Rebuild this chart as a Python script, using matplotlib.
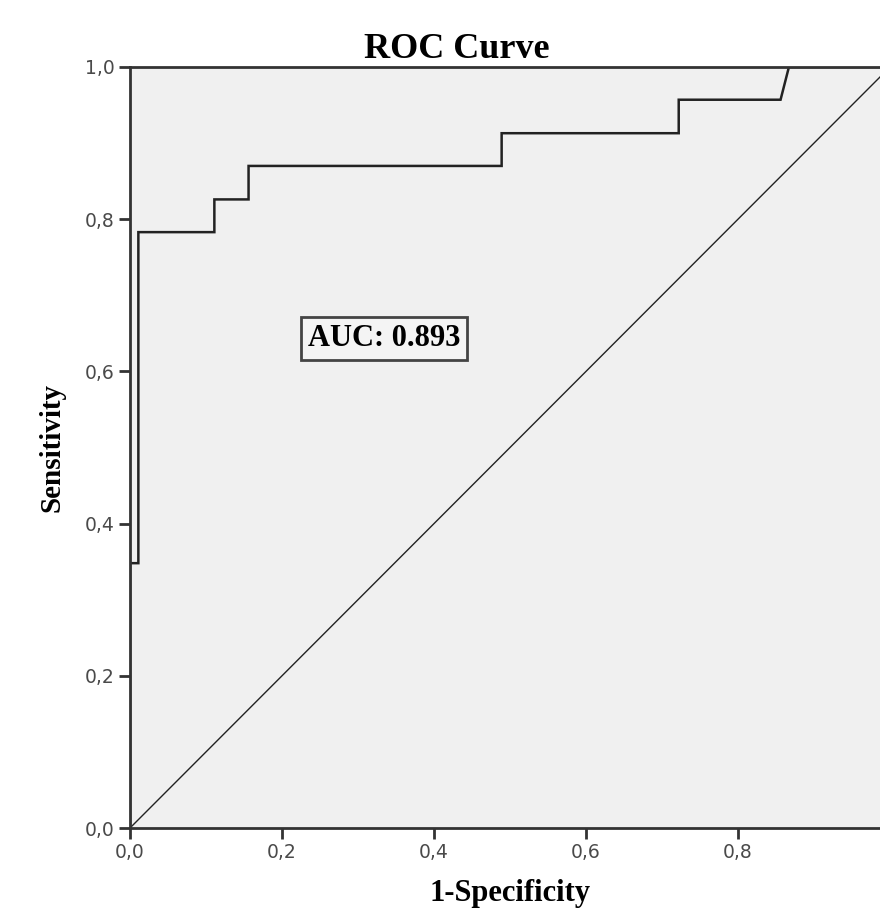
import matplotlib
matplotlib.use("Agg")
from matplotlib import pyplot as plt

fpr = [0.0, 0.0, 0.011, 0.011, 0.111, 0.111, 0.156, 0.156, 0.489, 0.489,
       0.722, 0.722, 0.856, 0.867, 1.0]
tpr = [0.0, 0.348, 0.348, 0.783, 0.783, 0.826, 0.826, 0.870, 0.870, 0.913,
       0.913, 0.957, 0.957, 1.0, 1.0]
ref_line = [0.0, 1.0]

x_ticks = [0.0, 0.2, 0.4, 0.6, 0.8, 1.0]
x_tick_labels = ['0,0', '0,2', '0,4', '0,6', '0,8', '1']
y_ticks = [0.0, 0.2, 0.4, 0.6, 0.8, 1.0]
y_tick_labels = ['0,0', '0,2', '0,4', '0,6', '0,8', '1,0']
auc_text = 'AUC: 0.893'

serif = ['Liberation Serif', 'DejaVu Serif']
edge = '#333333'


def run():
    fig = plt.figure(figsize=(8.8, 9.1), dpi=100)
    ax = fig.add_axes([130 / 880, 82 / 910, 760 / 880, 761 / 910])
    ax.set_facecolor('#f0f0f0')

    ax.plot(ref_line, ref_line, color='#222222', lw=1.0)
    ax.plot(fpr, tpr, color='#222222', lw=1.8, solid_joinstyle='miter')

    ax.set_xlim(0, 1)
    ax.set_ylim(0, 1)
    ax.set_xticks(x_ticks)
    ax.set_xticklabels(x_tick_labels)
    ax.set_yticks(y_ticks)
    ax.set_yticklabels(y_tick_labels)
    ax.tick_params(direction='out', length=8, width=2, color=edge,
                   labelsize=13.5, labelcolor='#4a4a4a', pad=3)

    for side in ['left', 'bottom', 'top', 'right']:
        ax.spines[side].set_color(edge)
        ax.spines[side].set_linewidth(2)

    ax.set_xlabel('1-Specificity', family=serif, fontweight='bold',
                  fontsize=22, labelpad=12)
    ax.set_ylabel('Sensitivity', family=serif, fontweight='bold',
                  fontsize=21, labelpad=14)
    fig.text(457 / 880, 1 - 50 / 910, 'ROC Curve', family=serif,
             fontweight='bold', fontsize=26, ha='center', va='center')

    ax.text(0.334, 0.643, auc_text, family=serif, fontweight='bold',
            fontsize=22, ha='center', va='center',
            bbox=dict(boxstyle='square,pad=0.22', facecolor='#f4f4f4',
                      edgecolor='#444444', linewidth=2))

    fig.savefig('out.png', dpi=100)


if __name__ == "__main__":
    run()
